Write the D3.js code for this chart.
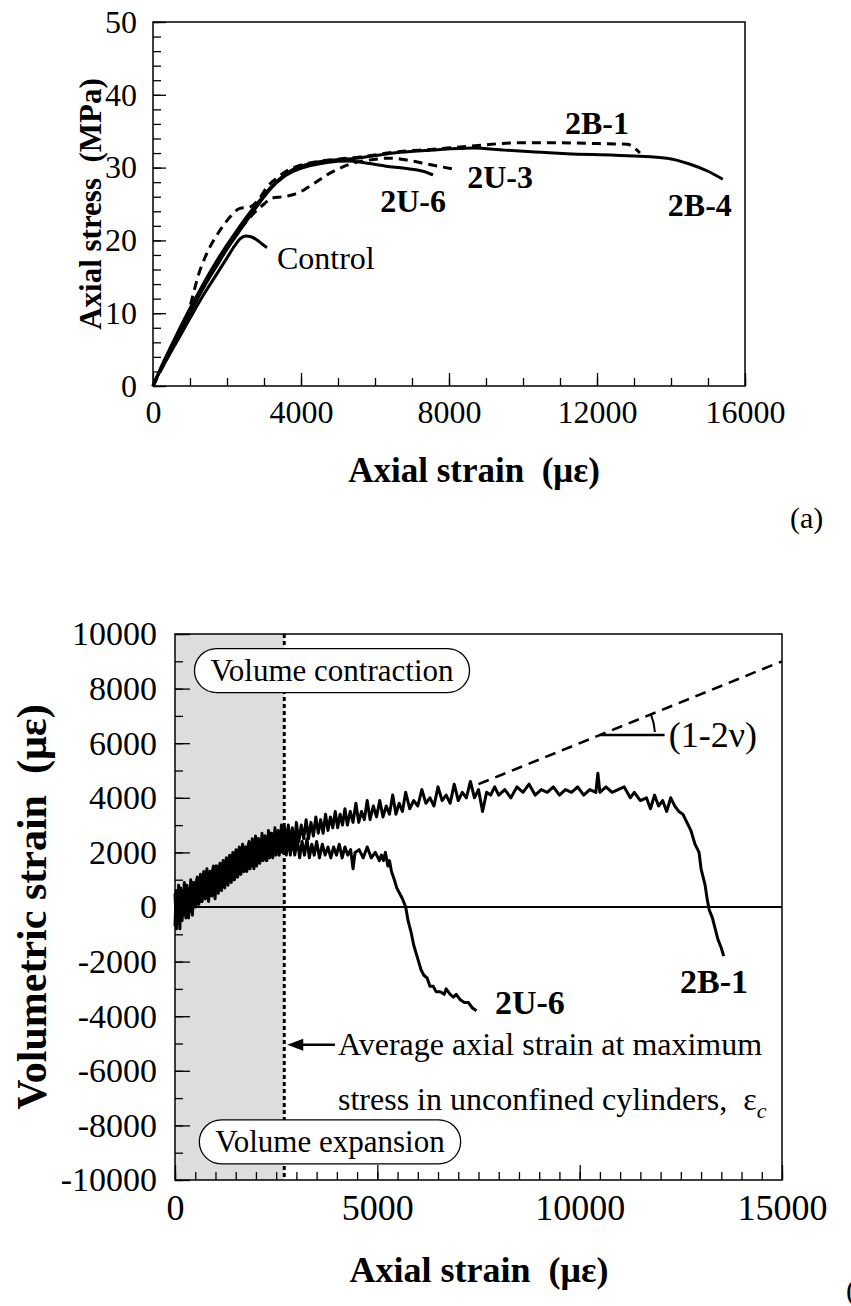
<!DOCTYPE html>
<meta charset="utf-8">
<style>
body { margin: 0; background: #fff; }
text { font-family: "Liberation Serif", "Times New Roman", serif; fill: #000; }
.tick line { stroke: #000; stroke-width: 1.3px; }
.bold { font-weight: bold; }
</style>
<svg width="851" height="1306"></svg>
<script src="https://d3js.org/d3.v7.min.js"></script>
<script>

// ---- (a) axial stress vs axial strain ----
var stressTicks = [0, 10, 20, 30, 40, 50];
var strainTicksA = [0, 4000, 8000, 12000, 16000];

var control = [[0,0],[100,1.2],[300,3],[500,4.8],[800,7.5],[1100,10.2],[1400,12.8],[1700,15.2],[2000,17.6],
  [2200,19.2],[2350,20.2],[2500,20.6],[2650,20.5],[2800,20.1],[2950,19.5],[3080,19]];
var u6 = [[0,0],[200,2.2],[500,5.2],[800,8.2],[1100,11],[1400,13.8],[1700,16.3],[2000,18.8],[2300,21],
  [2600,23.2],[2900,25.3],[3200,27.2],[3500,28.6],[3800,29.5],[4200,30.2],[4700,30.7],[5270,30.9],
  [5800,30.6],[6300,30.2],[6800,29.9],[7300,29.5],[7570,29.0]];
var u3 = [[0,0],[300,3],[600,6],[900,9],[1200,12],[1500,14.8],[1800,17.4],[2100,19.8],[2400,21.8],
  [2700,23.6],[3000,25],[3200,25.8],[3500,26],[3800,26.3],[4100,27],[4400,28],[4700,29],[5000,29.8],
  [5400,30.6],[5800,31],[6400,31.3],[6900,31],[7400,30.5],[7800,30.1],[8220,29.7]];
var b1 = [[0,0],[300,3.2],[600,6.3],[900,9.3],[1270,15.9],[1540,19.1],[1800,21.3],[2080,23.2],[2350,24.4],
  [2620,24.6],[2850,25.6],[3080,27.3],[3400,28.8],[3800,30],[4200,30.6],[4700,31],[5500,31.4],[6680,32.2],
  [7500,32.5],[8500,32.9],[9840,33.4],[11000,33.4],[12000,33.3],[12810,33.2],[13080,32.4],[13160,32.0]];
var b4 = [[0,0],[200,2.4],[500,5.6],[800,8.7],[1100,11.6],[1400,14.4],[1700,17],[2000,19.4],[2300,21.6],
  [2600,23.7],[2900,25.6],[3200,27.4],[3500,28.8],[3800,29.8],[4200,30.5],[4800,31],[5500,31.3],[6680,32.1],
  [7500,32.4],[8650,32.7],[9500,32.4],[10500,32.1],[11190,31.9],[12500,31.7],[13890,31.3],[14500,30.5],
  [15000,29.5],[15400,28.4]];

// ---- (b) volumetric strain vs axial strain ----
var volTicks = [-10000, -8000, -6000, -4000, -2000, 0, 2000, 4000, 6000, 8000, 10000];
var strainTicksB = [0, 5000, 10000, 15000];
var epsC = 2700;
var slopeLine = [[7500, 4500], [15000, 9000]];

var vb1 = [[0,-700],[30,600],[60,-500],[90,800],[120,-800],[150,500],[190,-300],[230,900],[270,-400],[310,700],
  [350,-200],[390,1000],[430,-300],[470,900],[510,0],[550,1100],[590,100],[630,1200],[670,200],[710,1300],
  [750,300],[790,1400],[830,200],[870,1300],[910,400],[950,1500],[990,300],[1030,1500],[1070,500],[1110,1600],
  [1150,600],[1190,1700],[1230,700],[1270,1800],[1310,800],[1350,1900],[1390,900],[1430,2000],[1470,1000],
  [1510,2100],[1550,1100],[1590,2200],[1630,1200],[1670,2300],[1710,1300],[1750,2200],[1790,1400],[1830,2400],
  [1870,1500],[1910,2500],[1950,1400],[1990,2600],[2030,1600],[2070,2500],[2110,1700],[2150,2700],[2190,1800],
  [2230,2600],[2270,1700],[2310,2800],[2350,1900],[2390,2700],[2430,2000],[2470,2900],[2510,2000],[2550,2800],
  [2590,2100],[2630,3000],[2670,2100],[2710,2900],[2750,2200],[2800,3000],[2850,2300],[2900,2900],[2950,2200],
  [3000,3100],[3060,2400],[3120,3000],[3180,2500],[3240,3200],[3300,2500],[3360,3100],[3420,2600],[3480,3300],
  [3540,2700],[3600,3200],[3660,2700],[3720,3400],[3780,2800],[3840,3300],[3900,2900],[3960,3500],[4020,2900],
  [4080,3400],[4140,3000],[4200,3600],[4260,3000],[4330,3500],[4400,3100],[4470,3800],[4540,3100],[4610,3500],
  [4680,3200],[4750,3900],[4820,3200],[4900,3700],[4980,3300],[5060,3900],[5140,3300],[5220,3700],[5300,3400],
  [5380,4100],[5460,3400],[5540,3800],[5620,3500],[5700,4200],[5800,3600],[5900,3900],[6000,3700],[6100,4300],
  [6200,3800],[6300,4000],[6400,3700],[6500,4400],[6600,3900],[6700,4100],[6800,3800],[6900,4500],[7000,3900],
  [7100,4200],[7200,4000],[7300,4600],[7400,4000],[7500,4300],[7600,3500],[7700,4200],[7800,4100],[7900,4400],
  [8000,4100],[8150,4300],[8300,4000],[8450,4400],[8600,4200],[8750,4500],[8900,4100],[9050,4300],[9200,4200],
  [9350,4400],[9500,4100],[9650,4300],[9800,4200],[9950,4400],[10100,4100],[10250,4300],[10400,4200],[10450,4900],
  [10500,4200],[10650,4400],[10800,4200],[10950,4300],[11100,4400],[11250,4000],[11350,4200],[11500,3900],
  [11650,4000],[11750,3600],[11850,4100],[11950,3700],[12050,3900],[12150,3500],[12250,4000],[12350,3700],
  [12450,3500],[12550,3400],[12650,3100],[12750,2800],[12850,2300],[12950,2000],[13000,1400],[13100,800],
  [13150,300],[13200,-100],[13280,-400],[13350,-800],[13420,-1200],[13500,-1500],[13560,-1800]];
var vu6 = [[0,500],[35,-800],[70,400],[105,-600],[140,700],[175,-500],[215,600],[255,-300],[295,800],[335,-400],
  [375,700],[415,-100],[455,900],[495,0],[535,1000],[575,100],[615,1100],[655,200],[695,1200],[735,300],
  [775,1300],[815,400],[855,1300],[895,500],[935,1400],[975,500],[1015,1500],[1055,600],[1095,1500],[1135,700],
  [1175,1600],[1215,800],[1255,1700],[1295,900],[1335,1800],[1375,1000],[1415,1900],[1455,1000],[1495,2000],
  [1535,1100],[1575,2100],[1615,1200],[1655,2100],[1695,1300],[1735,2200],[1775,1300],[1815,2300],[1855,1400],
  [1895,2300],[1935,1500],[1975,2400],[2015,1500],[2055,2500],[2095,1600],[2135,2400],[2175,1700],[2215,2600],
  [2255,1700],[2295,2500],[2335,1800],[2375,2700],[2415,1800],[2455,2600],[2495,1900],[2535,2700],[2575,1900],
  [2615,2600],[2655,2000],[2700,2700],[2750,1900],[2800,2600],[2850,1900],[2900,2500],[2960,1900],[3020,2500],
  [3080,1800],[3140,2400],[3200,1900],[3260,2500],[3320,1800],[3380,2300],[3440,1900],[3500,2400],[3570,1800],
  [3640,2300],[3710,1900],[3780,2200],[3850,1800],[3920,2200],[3990,1900],[4060,2300],[4130,1800],[4200,2200],
  [4270,1900],[4340,2100],[4400,1400],[4450,2000],[4550,2100],[4650,1800],[4750,2200],[4850,1800],[4950,2000],
  [5050,1700],[5100,1900],[5150,1700],[5200,2000],[5260,1500],[5300,1700],[5350,1300],[5420,1000],[5480,700],
  [5550,500],[5620,300],[5700,0],[5760,-500],[5830,-900],[5900,-1400],[5960,-1700],[6020,-2000],[6080,-2300],
  [6150,-2500],[6230,-2600],[6300,-2900],[6380,-2900],[6450,-3100],[6550,-3100],[6650,-3200],[6700,-3000],
  [6800,-3200],[6880,-3300],[6950,-3200],[7050,-3400],[7150,-3500],[7250,-3500],[7350,-3700],[7450,-3800]];

var svg = d3.select("svg");

function drawAxes(x, y, xMajor, xMinor, yMajor, yMinor, fsX, fsY, big, padY) {
  var x0 = x.range()[0], x1 = x.range()[1], y0 = y.range()[0], y1 = y.range()[1];
  var g = svg.append("g");
  g.append("g").attr("transform", "translate(0," + y0 + ")")
    .call(d3.axisBottom(x).tickValues(xMinor).tickSize(-8).tickFormat(""))
    .call(a => a.select(".domain").remove());
  g.append("g").attr("transform", "translate(0," + y0 + ")")
    .call(d3.axisBottom(x).tickValues(xMajor).tickSize(-big).tickPadding(14).tickFormat(d => String(d)))
    .attr("font-size", fsX)
    .call(a => a.select(".domain").remove());
  g.append("g").attr("transform", "translate(" + x0 + ",0)")
    .call(d3.axisLeft(y).tickValues(yMinor).tickSize(-8).tickFormat(""))
    .call(a => a.select(".domain").remove());
  g.append("g").attr("transform", "translate(" + x0 + ",0)")
    .call(d3.axisLeft(y).tickValues(yMajor).tickSize(-big).tickPadding(padY).tickFormat(d => String(d)))
    .attr("font-size", fsY)
    .call(a => a.select(".domain").remove());
  g.append("rect").attr("x", x0).attr("y", y1).attr("width", x1 - x0).attr("height", y0 - y1)
    .attr("fill", "none").attr("stroke", "#000").attr("stroke-width", 1.5);
}

// ===== chart (a) =====
var xA = d3.scaleLinear().domain([0, 16000]).range([153, 745]);
var yA = d3.scaleLinear().domain([0, 50]).range([386, 22]);
var lineA = d3.line().x(d => xA(d[0])).y(d => yA(d[1])).curve(d3.curveMonotoneX);

drawAxes(xA, yA, strainTicksA, d3.range(0, 16001, 1000), stressTicks, d3.range(0, 51, 2), 32, 32, 13, 16);

var seriesA = [
  {data: control, dash: null},
  {data: u6, dash: null},
  {data: b4, dash: null},
  {data: u3, dash: "9,6"},
  {data: b1, dash: "9,6"}
];
svg.append("g").selectAll("path").data(seriesA).enter().append("path")
  .attr("d", s => lineA(s.data))
  .attr("fill", "none").attr("stroke", "#000").attr("stroke-width", 3)
  .attr("stroke-dasharray", s => s.dash);

var labelsA = [["2B-1", 12000, 36.1], ["2U-3", 9380, 28.7], ["2U-6", 7030, 25.5], ["2B-4", 14780, 24.9]];
svg.append("g").selectAll("text").data(labelsA).enter().append("text")
  .attr("class", "bold").attr("font-size", 32).attr("text-anchor", "middle")
  .attr("x", d => xA(d[1])).attr("y", d => yA(d[2])).attr("dy", "0.35em").text(d => d[0]);
svg.append("text").attr("font-size", 32).attr("x", xA(3350)).attr("y", yA(17.6)).attr("dy", "0.35em").text("Control");

svg.append("text").attr("class", "bold").attr("font-size", 31).attr("text-anchor", "middle")
  .attr("transform", "translate(101,204) rotate(-90)").text("Axial stress\u00a0\u00a0(MPa)");
svg.append("text").attr("class", "bold").attr("font-size", 35).attr("text-anchor", "middle")
  .attr("x", 474).attr("y", 482).text("Axial strain\u00a0\u00a0(\u03bc\u03b5)");
svg.append("text").attr("font-size", 30).attr("x", 790).attr("y", 528).text("(a)");

// ===== chart (b) =====
var xB = d3.scaleLinear().domain([0, 15000]).range([175, 782]);
var yB = d3.scaleLinear().domain([-10000, 10000]).range([1180, 634]);
var lineB = d3.line().x(d => xB(d[0])).y(d => yB(d[1]));

svg.append("rect").attr("x", xB(0)).attr("y", yB(10000)).attr("width", xB(epsC) - xB(0))
  .attr("height", yB(-10000) - yB(10000)).attr("fill", "#dddddd");

drawAxes(xB, yB, strainTicksB, d3.range(0, 15001, 500), volTicks, d3.range(-10000, 10001, 1000), 36, 34, 15, 18);

svg.append("line").attr("x1", xB(0)).attr("x2", xB(15000)).attr("y1", yB(0)).attr("y2", yB(0))
  .attr("stroke", "#000").attr("stroke-width", 2);
svg.append("line").attr("x1", xB(epsC)).attr("x2", xB(epsC)).attr("y1", yB(10000)).attr("y2", yB(-10000))
  .attr("stroke", "#000").attr("stroke-width", 3).attr("stroke-dasharray", "4,3");

svg.append("path").attr("d", lineB(slopeLine)).attr("fill", "none").attr("stroke", "#000")
  .attr("stroke-width", 2.5).attr("stroke-dasharray", "11,7");

[vu6, vb1].forEach(function (s) {
  svg.append("path").attr("d", lineB(s)).attr("fill", "none").attr("stroke", "#000")
    .attr("stroke-width", 3).attr("stroke-linejoin", "round");
});

// slope marker (1-2v)
var cx = xB(10500), cy = yB(6300), r = 55;
var ang = Math.atan2(yB(6300) - yB(9000), xB(15000) - xB(10500));
svg.append("line").attr("x1", cx).attr("x2", xB(12100)).attr("y1", cy).attr("y2", cy)
  .attr("stroke", "#000").attr("stroke-width", 2.5);
svg.append("path")
  .attr("d", "M" + (cx + r) + "," + (cy - 3) + " A" + r + "," + r + " 0 0,0 " + (cx + r * Math.cos(ang)) + "," + (cy - r * Math.sin(ang)))
  .attr("fill", "none").attr("stroke", "#000").attr("stroke-width", 2);
svg.append("text").attr("font-size", 36).attr("x", xB(12200)).attr("y", cy).attr("dy", "0.33em").text("(1-2\u03bd)");

// capsules
function capsule(label, sx, v) {
  var t = svg.append("text").attr("font-size", 31).attr("text-anchor", "middle")
    .attr("x", xB(sx)).attr("y", yB(v)).attr("dy", "0.33em").text(label);
  var w = t.node().getComputedTextLength() + 32, h = 44;
  svg.insert("rect", function () { return t.node(); })
    .attr("x", xB(sx) - w / 2).attr("y", yB(v) - h / 2).attr("width", w).attr("height", h)
    .attr("rx", h / 2).attr("fill", "#fff").attr("stroke", "#000").attr("stroke-width", 1.3);
}
capsule("Volume contraction", 3880, 8660);
capsule("Volume expansion", 3830, -8600);

var labelsB = [["2U-6", 8770, -3500], ["2B-1", 13320, -2730]];
svg.append("g").selectAll("text").data(labelsB).enter().append("text")
  .attr("class", "bold").attr("font-size", 34).attr("text-anchor", "middle")
  .attr("x", d => xB(d[1])).attr("y", d => yB(d[2])).attr("dy", "0.35em").text(d => d[0]);

// eps_c note with arrow
var ay = yB(-5050), tip = xB(epsC) + 3;
svg.append("line").attr("x1", tip + 12).attr("x2", 335).attr("y1", ay).attr("y2", ay)
  .attr("stroke", "#000").attr("stroke-width", 2.5);
svg.append("path").attr("d", "M" + tip + "," + ay + " L" + (tip + 16) + "," + (ay - 6) + " L" + (tip + 16) + "," + (ay + 6) + "Z")
  .attr("fill", "#000");
svg.append("text").attr("font-size", 32).attr("x", 338).attr("y", ay).attr("dy", "0.33em")
  .text("Average axial strain at maximum");
var note2 = svg.append("text").attr("font-size", 32).attr("x", 338).attr("y", yB(-7060)).attr("dy", "0.33em")
  .text("stress in unconfined cylinders,\u00a0\u00a0\u03b5");
note2.append("tspan").attr("font-style", "italic").attr("font-size", 22).attr("dy", "0.35em").text("c");

svg.append("text").attr("class", "bold").attr("font-size", 42).attr("text-anchor", "middle")
  .attr("transform", "translate(46,907) rotate(-90)").text("Volumetric strain\u00a0\u00a0(\u03bc\u03b5)");
svg.append("text").attr("class", "bold").attr("font-size", 36).attr("text-anchor", "middle")
  .attr("x", 479).attr("y", 1282).text("Axial strain\u00a0\u00a0(\u03bc\u03b5)");
svg.append("text").attr("font-size", 30).attr("x", 846).attr("y", 1300).text("(b)");

</script>
